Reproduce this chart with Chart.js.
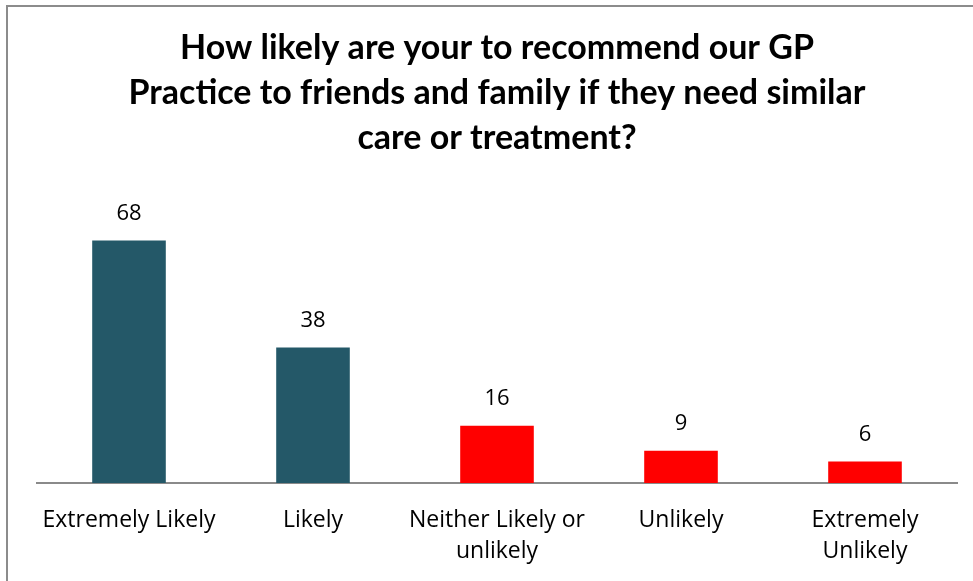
<!DOCTYPE html>
<html>
<head>
<meta charset="utf-8">
<script src="https://cdn.jsdelivr.net/npm/chart.js@4.4.1/dist/chart.umd.min.js"></script>
<style>
  html, body { margin: 0; padding: 0; background: #fff; overflow: hidden; }
  #wrap { position: absolute; left: 0; top: 0; width: 973px; height: 581px; }
  #frame {
    position: absolute; left: 6px; top: 5px; width: 980px; height: 600px;
    border-left: 2px solid #8c8c8c; border-top: 2px solid #8c8c8c;
    pointer-events: none;
  }
</style>
</head>
<body>
<div id="wrap">
  <canvas id="myChart" width="973" height="581"></canvas>
  <div id="frame"></div>
</div>
<script>
const categories = [
  "Extremely Likely",
  "Likely",
  ["Neither Likely or", "unlikely"],
  "Unlikely",
  ["Extremely", "Unlikely"],
];
const responses = [68, 38, 16, 9, 6];
const barColors = ["#245868", "#245868", "#ff0000", "#ff0000", "#ff0000"];
const titleLines = [
  "How likely are your to recommend our GP",
  "Practice to friends and family if they need similar",
  "care or treatment?",
];

// labels above each bar
const valueLabels = {
  id: "valueLabels",
  afterDatasetsDraw(chart) {
    const ctx = chart.ctx;
    const meta = chart.getDatasetMeta(0);
    ctx.save();
    ctx.font = "22px 'Open Sans'";
    ctx.fillStyle = "#000";
    ctx.textAlign = "center";
    ctx.textBaseline = "middle";
    meta.data.forEach((bar, i) => {
      ctx.fillText(String(responses[i]), bar.x, bar.y - 27);
    });
    ctx.restore();
  },
};

const ctx = document.getElementById("myChart").getContext("2d");

const myChart = new Chart(ctx, {
  type: "bar",
  data: {
    labels: categories,
    datasets: [
      {
        data: responses,
        backgroundColor: barColors,
        borderWidth: 0,
        barPercentage: 0.4,
        categoryPercentage: 1,
      },
    ],
  },
  options: {
    responsive: false,
    animation: false,
    layout: { padding: { left: 37, right: 16, top: 0, bottom: 0 } },
    scales: {
      x: {
        grid: { display: false },
        border: { display: true, color: "#8a8a8a", width: 2 },
        ticks: {
          color: "#000",
          font: { family: "'Open Sans'", size: 23, lineHeight: 1.35 },
          padding: 14,
          maxRotation: 0,
          autoSkip: false,
        },
      },
      y: {
        display: false,
        min: 0,
        max: 80,
      },
    },
    plugins: {
      legend: { display: false },
      tooltip: { enabled: false },
      title: {
        display: true,
        text: titleLines,
        color: "#000",
        font: { family: "Lato", size: 34, weight: "bold", lineHeight: 1.32 },
        padding: { top: 26, bottom: 37 },
      },
    },
  },
  plugins: [valueLabels],
});
</script>
</body>
</html>
